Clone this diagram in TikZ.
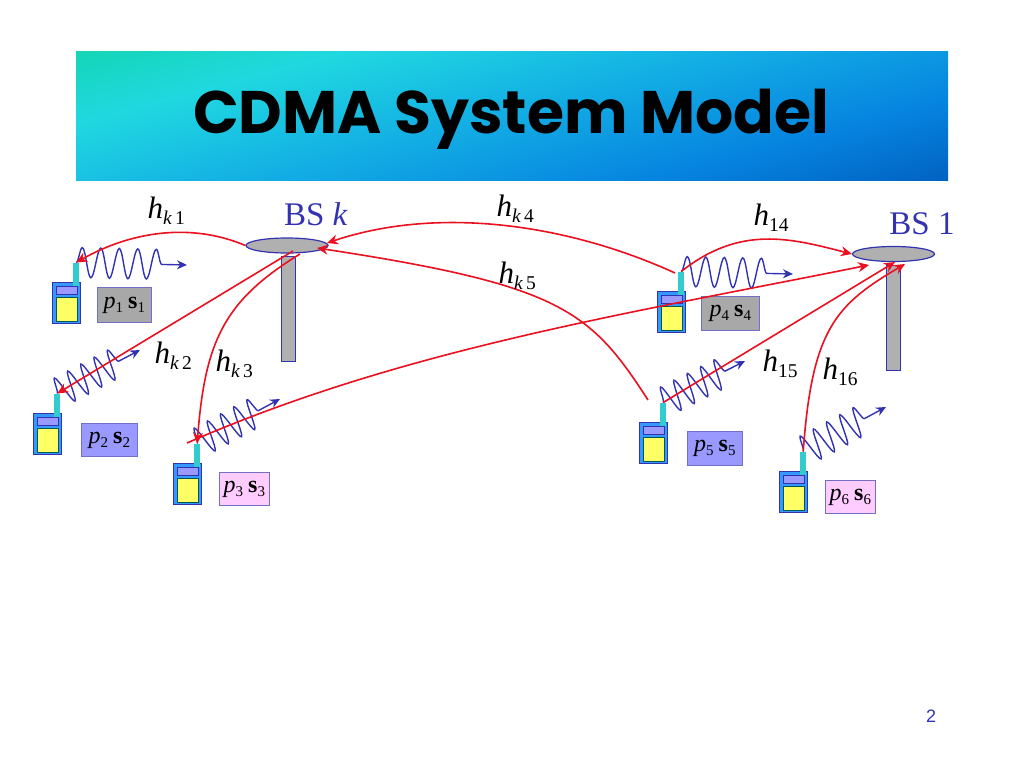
\documentclass[tikz,border=0pt]{standalone}
\usepackage{fontspec}
\setmainfont{Liberation Serif}
\newfontfamily\titlefont{Poppins}
\newfontfamily\pagefont{Liberation Sans}
\usetikzlibrary{arrows.meta,positioning,calc,decorations.pathmorphing,shapes.geometric}
\definecolor{linkblue}{HTML}{3333B2}
\definecolor{linkred}{HTML}{EA1020}
\definecolor{bsgray}{HTML}{B0B0B0}
\definecolor{lblgray}{HTML}{A8A8A8}
\definecolor{lblblue}{HTML}{9999FF}
\definecolor{lblpink}{HTML}{FFCCFF}
\definecolor{phoneblue}{HTML}{3399FF}
\definecolor{phoneyellow}{HTML}{FFFF66}
\definecolor{antteal}{HTML}{33CCCC}
\definecolor{bandA}{HTML}{10D5A8}
\definecolor{bandB}{HTML}{20D8E0}
\definecolor{bandC}{HTML}{12ACE4}
\definecolor{bandD}{HTML}{0684E0}
\definecolor{bandE}{HTML}{0058B8}
\pgfdeclarehorizontalshading{bannershade}{100bp}{
  color(0bp)=(bandA); color(15bp)=(bandA);
  color(31.5bp)=(bandB);
  color(50bp)=(bandC);
  color(67bp)=(bandD);
  color(85bp)=(bandE);
  color(100bp)=(bandE)}
% subscript set lower than \textsubscript does
\newcommand{\lowsub}[3]{\raisebox{-#1pt}{\fontsize{#2}{#2}\selectfont #3}}
\newcommand{\chan}[1]{\textit{h}\lowsub{6}{19.5}{#1}}
\newcommand{\pwr}[1]{\textit{p}\lowsub{4}{15}{#1}\hspace{5pt}\textbf{s}\lowsub{4}{15}{#1}}
\begin{document}
\begin{tikzpicture}[x=1pt, y=-1pt,
  phonebody/.style={draw=linkblue, fill=phoneblue, line width=1.2pt, anchor=north west,
              inner sep=0pt, minimum width=28pt, minimum height=41pt},
  phonekey/.style={draw=linkblue, fill=lblblue, line width=0.8pt, anchor=north west,
              inner sep=0pt, minimum width=21pt, minimum height=8pt},
  phonescreen/.style={draw=teal!70!black, fill=phoneyellow, line width=0.8pt, anchor=north west,
              inner sep=0pt, minimum width=21pt, minimum height=24pt},
  antenna/.style={fill=antteal, anchor=north west, inner sep=0pt,
              minimum width=6pt, minimum height=23pt},
  lbl/.style={draw=linkblue!70, line width=0.8pt, inner sep=0pt, anchor=north west,
              font=\fontsize{24}{24}\selectfont},
  bsdish/.style={draw=linkblue, fill=bsgray, line width=1.2pt, ellipse, inner sep=0pt,
              minimum width=82pt, minimum height=15pt},
  bsmast/.style={draw=linkblue, fill=bsgray, line width=1.2pt, inner sep=0pt, anchor=north west,
              minimum width=14pt, minimum height=105pt},
  bstext/.style={text=linkblue, font=\fontsize{33}{33}\selectfont},
  chtext/.style={font=\fontsize{31}{31}\selectfont, anchor=west},
  wave/.style={draw=linkblue, line width=1.4pt, -{Stealth[length=10pt,width=9pt]},
              decorate, decoration={snake, segment length=#1, amplitude=15pt, post length=18pt}},
  link/.style={draw=linkred, line width=1.6pt, -{Stealth[length=11pt,width=10pt]}}]
  \path[use as bounding box, fill=white] (0,0) rectangle (1024,768);
  % title band
  \shade[shading=bannershade, shading angle=-75] (76,52) rectangle (948,180);
  \node[font=\titlefont\bfseries\fontsize{60}{60}\selectfont] (title) at (511,119) {CDMA System Model};
  \node[text=linkblue, font=\pagefont\fontsize{18}{18}\selectfont] (pageno) at (931,716) {2};
  % base stations
  \node[bsmast] (mastk) at (281,256) {};
  \node[bsdish] (bsk) at (287,245.5) {};
  \node[bsmast] (mast1) at (886,265) {};
  \node[bsdish] (bs1) at (893.5,254) {};
  \node[bstext] (bsktext) at (316,214.5) {BS \textit{k}};
  \node[bstext] (bs1text) at (922,223.5) {BS 1};
  % phones: number / corner / wave end / wave period
  \foreach \n/\x/\y/\ex/\ey/\per in {1/52/282/187/265/18.5pt, 2/33/413/140/350/15pt,
      3/173/463/280/399/15pt, 4/657/291/793/274/18.5pt,
      5/639/422/745/361/15pt, 6/779/471/886/407/15pt}{
    \node[phonebody]   (phone\n)  at (\x,\y) {};
    \node[phonekey]    (key\n)    at (\x+3.5,\y+4) {};
    \node[phonescreen] (screen\n) at (\x+3.5,\y+15) {};
    \node[antenna]     (ant\n)    at (\x+21,\y-19.5) {};
    \coordinate (tip\n) at (\ex,\ey);
    \draw[wave=\per] (ant\n.north) -- (tip\n);
  }
  % power and code labels
  \foreach \n/\x/\y/\w/\h/\col in {1/97/287/54/35/lblgray, 2/81/423/56/33/lblblue,
      3/219/472/50/33/lblpink, 4/701/296/58/34/lblgray,
      5/687/431/55/34/lblblue, 6/825/480/50/33/lblpink}{
    \node[lbl, fill=\col, minimum width=\w pt, minimum height=\h pt] (lbl\n) at (\x,\y) {\pwr{\n}};
  }
  % free ends of the red links
  \coordinate (kin2) at (293,251);
  \coordinate (kin3) at (300,254);
  \coordinate (kto4) at (327,243);
  \coordinate (kto5) at (317,248);
  \coordinate (from4) at (675,273);
  \coordinate (from5) at (648,400);
  \coordinate (from3) at (187,443);
  \coordinate (to3) at (869,265);
  \coordinate (to5) at (895,262);
  \coordinate (to6) at (905,264);
  % links to BS k
  \draw[link] (bsk.west) .. controls (190,222) and (130,232) .. (ant1.north);
  \draw[link] (kin2) -- (ant2.north);
  \draw[link] (kin3) .. controls (225,300) and (205,340) .. (ant3.north);
  \draw[link] (from4) .. controls (570,225) and (440,205) .. (kto4);
  \draw[link] (from5) .. controls (590,310) and (560,285) .. (kto5);
  % links to BS 1
  \draw[link] (ant4.north) .. controls (740,225) and (790,238) .. (bs1.west);
  \draw[link] (from3) .. controls (400,350) and (620,315) .. (to3);
  \draw[link] (ant5.north) -- (to5);
  \draw[link] (ant6.north) .. controls (812,330) and (835,305) .. (to6);
  % channel labels
  \node[chtext] (hk1) at (144,211) {\chan{\textit{k}\,1}};
  \node[chtext] (hk2) at (151,356) {\chan{\textit{k}\,2}};
  \node[chtext] (hk3) at (212,364) {\chan{\textit{k}\,3}};
  \node[chtext] (hk4) at (493,209) {\chan{\textit{k}\,4}};
  \node[chtext] (hk5) at (495,276) {\chan{\textit{k}\,5}};
  \node[chtext] (h14) at (750,218) {\chan{14}};
  \node[chtext] (h15) at (759,364) {\chan{15}};
  \node[chtext] (h16) at (819,372) {\chan{16}};
\end{tikzpicture}
\end{document}
